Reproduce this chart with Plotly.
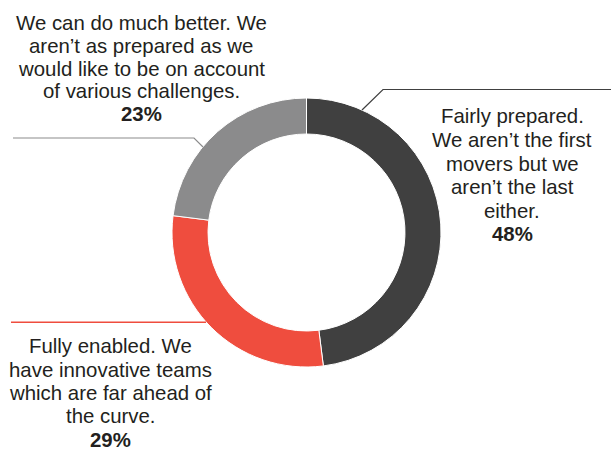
import plotly.graph_objects as go

W, H = 611, 454

# ---- data ----
labels = ["Fairly prepared", "Fully enabled", "We can do much better"]
values = [48, 29, 23]
colors = ["#404040", "#ef4d3e", "#8b8b8c"]

label_lines = [
    ["Fairly prepared.", "We aren’t the first", "movers but we", "aren’t the last", "either."],
    ["Fully enabled. We", "have innovative teams", "which are far ahead of", "the curve."],
    ["We can do much better. We", "aren’t as prepared as we", "would like to be on account", "of various challenges."],
]

# ---- layout helpers (pixel -> paper) ----
def px(x):
    return x / W

def py(y):
    return 1 - y / H

cx, cy, R = 306.5, 232.5, 134.5
hole = 98.5 / 134.5

fig = go.Figure()
fig.add_trace(go.Pie(
    labels=labels,
    values=values,
    marker=dict(colors=colors, line=dict(color="white", width=1)),
    hole=hole,
    sort=False,
    direction="clockwise",
    rotation=0,
    textinfo="none",
    hoverinfo="label+percent",
    showlegend=False,
    domain=dict(x=[px(cx - R), px(cx + R)], y=[py(cy + R), py(cy - R)]),
))

# label blocks: center x, first baseline, line spacing
blocks = [
    (512, 123.5, 23.6),
    (110.5, 353.3, 23.3),
    (141, 30.0, 22.8),
]

annotations = []
for (bx, b0, sp), lines, v in zip(blocks, label_lines, values):
    all_lines = lines + [f"<b>{v}%</b>"]
    for i, t in enumerate(all_lines):
        base = b0 + i * sp
        annotations.append(dict(
            x=px(bx), y=py(base - 7), xref="paper", yref="paper",
            text=t, showarrow=False, xanchor="center", yanchor="middle",
            font=dict(family="Liberation Sans, Arial, sans-serif", size=20.4, color="#231f20"),
        ))

# leader lines
shapes = [
    dict(type="path", xref="paper", yref="paper",
         path=f"M {px(362)} {py(110)} L {px(383)} {py(89.5)} L {px(611)} {py(89.5)}",
         line=dict(color="#404040", width=1.2)),
    dict(type="path", xref="paper", yref="paper",
         path=f"M {px(13)} {py(138)} L {px(194)} {py(138)} L {px(203)} {py(147)}",
         line=dict(color="#8b8b8c", width=1.2)),
    dict(type="line", xref="paper", yref="paper",
         x0=px(11), y0=py(322.3), x1=px(206), y1=py(322.3),
         line=dict(color="#ef4d3e", width=1.5)),
]

fig.update_layout(
    width=W, height=H,
    margin=dict(l=0, r=0, t=0, b=0),
    paper_bgcolor="white", plot_bgcolor="white",
    annotations=annotations,
    shapes=shapes,
)

fig.write_html(
    "out.html",
    config={"displayModeBar": False},
    post_script="document.body.style.margin='0';document.body.style.overflow='hidden';",
)
